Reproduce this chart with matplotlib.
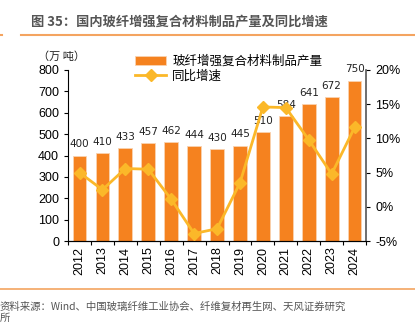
import numpy as np
import matplotlib
matplotlib.use("Agg")
import matplotlib.pyplot as plt

plt.rcParams['font.family'] = ['Noto Sans CJK SC', 'DejaVu Sans']

years = ['2012', '2013', '2014', '2015', '2016', '2017', '2018',
         '2019', '2020', '2021', '2022', '2023', '2024']
output = [400, 410, 433, 457, 462, 444, 430, 445, 510, 584, 641, 672, 750]
growth = [5.0, 2.5, 5.6, 5.5, 1.1, -3.9, -3.2, 3.5, 14.6, 14.5, 9.8, 4.8, 11.6]

bar_color = '#F5821F'
line_color = '#FBB829'
num_font = 'Liberation Sans'

fig = plt.figure(figsize=(4.15, 3.24), dpi=100)
ax = fig.add_axes([0.164, 0.256, 0.718, 0.528])
x = np.arange(len(years))

ax.bar(x, output, width=0.6, color=bar_color, edgecolor='#FAD3B0',
       linewidth=0.6, label='玻纤增强复合材料制品产量', zorder=2)
for xi, v in zip(x, output):
    ax.text(xi, v + 30, str(v), ha='center', va='bottom', fontsize=7.5,
            family='DejaVu Sans', color='#222222')

ax.set_xlim(-0.5, len(years) - 0.5)
ax.set_ylim(0, 800)
ax.set_yticks(range(0, 801, 100))
ax.set_xticks(np.arange(-0.5, len(years), 1.0))
ax.set_xticklabels([])
ax.set_xticks(x, minor=True)
ax.set_xticklabels(years, minor=True, rotation=90)
ax.tick_params(axis='x', which='major', length=3, direction='out')
ax.tick_params(axis='x', which='minor', length=0, pad=4)
ax.tick_params(axis='y', length=3, direction='out')
for lab in ax.get_yticklabels() + ax.get_xticklabels(minor=True):
    lab.set_family(num_font)
    lab.set_fontsize(9)
ax.spines['top'].set_visible(False)
ax.spines['right'].set_visible(False)

ax2 = ax.twinx()
ax2.plot(x, growth, color=line_color, lw=2, marker='D', markersize=6,
         label='同比增速', zorder=3)
ax2.set_ylim(-5, 20)
ax2.set_yticks(range(-5, 21, 5))
ax2.set_yticklabels([f'{t}%' for t in range(-5, 21, 5)])
ax2.tick_params(axis='y', length=3, direction='out')
for lab in ax2.get_yticklabels():
    lab.set_family(num_font)
    lab.set_fontsize(9)
ax2.spines['top'].set_visible(False)
ax2.spines['left'].set_visible(False)
ax2.spines['right'].set_color('#555555')
ax2.spines['right'].set_linewidth(1.2)

h1, l1 = ax.get_legend_handles_labels()
h2, l2 = ax2.get_legend_handles_labels()
fig.legend(h1 + h2, l1 + l2, loc='upper left', bbox_to_anchor=(0.31, 0.85),
           frameon=False, fontsize=9, handlelength=2.5, labelspacing=0.15,
           borderpad=0, handletextpad=0.5)

fig.text(0.092, 0.825, '（万 吨）', fontsize=8, color='#222222', va='center', ha='left')

fig.text(0.075, 0.935, '图 35：国内玻纤增强复合材料制品产量及同比增速', fontsize=9.5,
         fontweight='bold', color='#555555', va='center', ha='left')
fig.add_artist(plt.Line2D([0.05, 1.0], [0.892, 0.892], color='#F4A460', lw=1.5))
fig.add_artist(plt.Line2D([0.0, 0.005], [0.892, 0.892], color='#F4A460', lw=1.5))

fig.add_artist(plt.Line2D([0.0, 1.0], [0.108, 0.108], color='#F4A460', lw=1.2))
fig.text(0.0, 0.052, '资料来源：Wind、中国玻璃纤维工业协会、纤维复材再生网、天风证券研究',
         fontsize=7.5, color='#555555', va='center', ha='left')
fig.text(0.0, 0.004, '所', fontsize=7.5, color='#555555', va='bottom', ha='left')

fig.savefig('out.png', dpi=100)
